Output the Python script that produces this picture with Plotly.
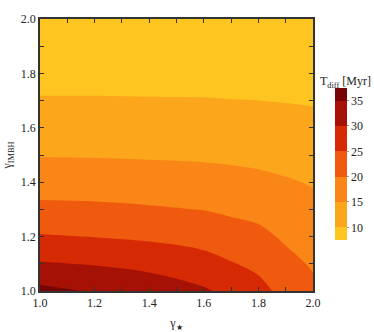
import plotly.graph_objects as go

# Grid of the diffusion time T_diff [Myr]
gamma_star = [1.0, 1.2, 1.4, 1.6, 1.7, 1.8, 1.9, 2.0]
gamma_imbh = [1.0, 1.1, 1.2, 1.3, 1.4, 1.5, 1.6, 1.7, 1.8, 1.9, 2.0]

# columns per gamma_star value (each list runs over gamma_imbh)
t_col_10 = [36.4, 30.4, 25.4, 21.2, 17.7, 14.8, 12.3, 10.3, 8.6, 7.2, 6.0]
t_col_12 = [34.5, 29.7, 24.9, 21.0, 17.55, 14.7, 12.3, 10.3, 8.6, 7.2, 6.0]
t_col_14 = [33.0, 28.6, 24.2, 20.5, 17.3, 14.5, 12.2, 10.25, 8.5, 7.1, 6.0]
t_col_16 = [30.6, 26.8, 23.2, 19.9, 16.9, 14.3, 12.1, 10.2, 8.5, 7.1, 5.9]
t_col_17 = [28.7, 25.3, 22.1, 19.2, 16.5, 14.1, 11.9, 10.1, 8.45, 7.05, 5.9]
t_col_18 = [26.5, 23.9, 21.2, 18.6, 16.1, 13.8, 11.8, 10.0, 8.4, 7.0, 5.9]
t_col_19 = [23.5, 21.4, 19.3, 17.3, 15.4, 13.4, 11.5, 9.85, 8.3, 7.0, 5.8]
t_col_20 = [21.0, 19.5, 17.7, 16.2, 14.7, 12.8, 11.1, 9.7, 8.2, 6.9, 5.8]

columns = [t_col_10, t_col_12, t_col_14, t_col_16, t_col_17, t_col_18, t_col_19, t_col_20]
z = [[columns[j][i] for j in range(len(gamma_star))] for i in range(len(gamma_imbh))]

band_colors = ["#FEC420", "#FCA61B", "#F98616", "#EF5A0F", "#D62A05", "#A51105", "#780505"]
colorscale = [[k / (len(band_colors) - 1), c] for k, c in enumerate(band_colors)]

font_family = "Liberation Serif"

fig = go.Figure(
    go.Contour(
        x=gamma_star,
        y=gamma_imbh,
        z=z,
        autocontour=False,
        contours=dict(start=10, end=35, size=5, coloring="fill", showlines=False),
        colorscale=colorscale,
        line=dict(width=0, smoothing=1),
        colorbar=dict(
            x=1.0816, xanchor="left", xpad=0,
            y=0.467, yanchor="middle", ypad=0,
            len=0.559, lenmode="fraction",
            thickness=12, thicknessmode="pixels",
            outlinewidth=0,
            ticks="outside", ticklen=2, tickcolor="#999",
            tickvals=[10, 15, 20, 25, 30, 35],
            tickfont=dict(family=font_family, size=12, color="#222"),
        ),
    )
)

axis_common = dict(
    range=[1.0, 2.0],
    tickvals=[1.0, 1.2, 1.4, 1.6, 1.8, 2.0],
    ticktext=["1.0", "1.2", "1.4", "1.6", "1.8", "2.0"],
    ticks="inside", ticklen=4, tickwidth=1, tickcolor="#333",
    minor=dict(dtick=0.1, ticks="inside", ticklen=4, tickwidth=1, tickcolor="#333"),
    showline=True, linecolor="#333", linewidth=1.5, mirror="allticks",
    showgrid=False, zeroline=False, automargin=False,
    tickfont=dict(family=font_family, size=12, color="#222"),
)

fig.update_xaxes(**axis_common, title=dict(text="γ<sub>★</sub>", font=dict(family=font_family, size=12, color="#222"), standoff=12))
fig.update_yaxes(**axis_common, title=dict(text="γ<sub>IMBH</sub>", font=dict(family=font_family, size=12, color="#222"), standoff=17))

fig.add_annotation(
    text="T<sub>diff</sub> [Myr]", xref="paper", yref="paper",
    x=1.12, y=0.768, xanchor="center", yanchor="middle", showarrow=False,
    font=dict(family=font_family, size=12, color="#222"),
)

fig.update_layout(
    width=374, height=332,
    margin=dict(l=39.5, r=61.3, t=19, b=41, autoexpand=False),
    paper_bgcolor="white", plot_bgcolor="white",
    showlegend=False,
)

# remove the default page margin so the figure fills the window exactly
fig.write_html(
    "out.html",
    config={"displayModeBar": False},
    post_script="document.body.style.margin='0';document.body.style.overflow='hidden';",
)
